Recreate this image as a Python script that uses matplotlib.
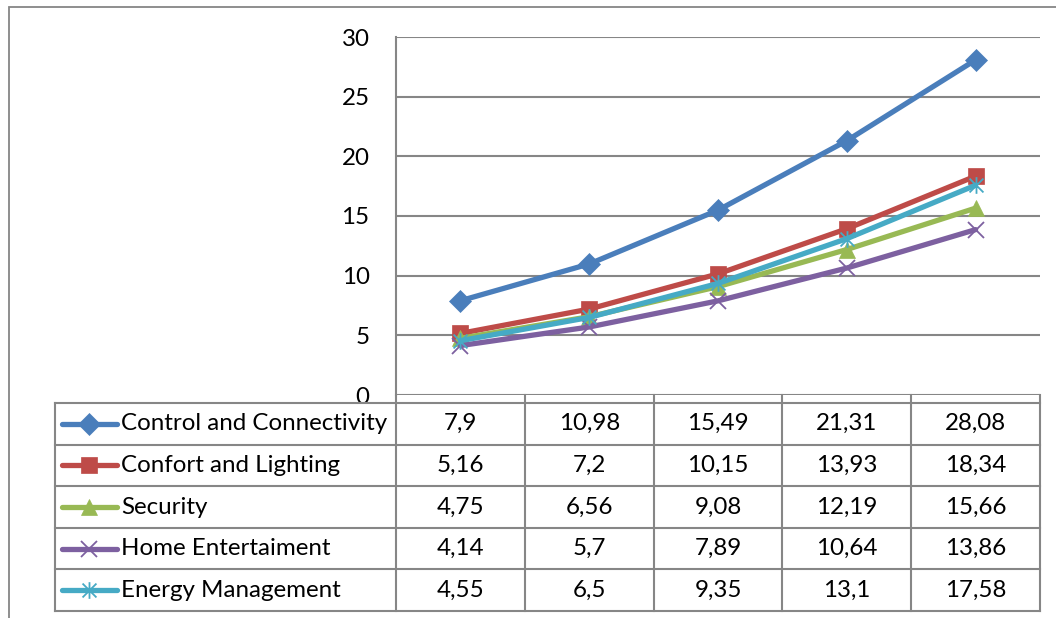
import matplotlib
matplotlib.use("Agg")
import matplotlib.pyplot as plt
from matplotlib.path import Path
from matplotlib.patches import Rectangle

series_names = ["Control and Connectivity", "Confort and Lighting", "Security",
                "Home Entertaiment", "Energy Management"]
control = [7.9, 10.98, 15.49, 21.31, 28.08]
confort = [5.16, 7.2, 10.15, 13.93, 18.34]
security = [4.75, 6.56, 9.08, 12.19, 15.66]
home_ent = [4.14, 5.7, 7.89, 10.64, 13.86]
energy = [4.55, 6.5, 9.35, 13.1, 17.58]
y_ticks = [0, 5, 10, 15, 20, 25, 30]

all_values = [control, confort, security, home_ent, energy]
colors = ["#4A7EBB", "#BE4B48", "#98B954", "#7D60A0", "#46AAC5"]
asterisk = Path([(-1, -1), (1, 1), (-1, 1), (1, -1), (0, -1.2), (0, 1.2)],
                [Path.MOVETO, Path.LINETO, Path.MOVETO, Path.LINETO, Path.MOVETO, Path.LINETO])
markers = ["D", "s", "^", "x", asterisk]
msizes = [11, 11, 12, 12, 12]

FONT = "Lato"
FS = 17.4
GRID = "#868686"

W, H = 1056, 618
fig = plt.figure(figsize=(W / 100, H / 100), dpi=100)

def fx(px):
    return px / W

def fy(py):
    return 1 - py / H

# outer chart border
fig.patches.append(Rectangle((fx(9), -0.05), 1.2, fy(7) + 0.05, transform=fig.transFigure,
                             fill=False, edgecolor=GRID, linewidth=1.3))

# main plot
px_l, px_r, py_t, py_b = 396, 1040, 37, 395
ax = fig.add_axes([fx(px_l), fy(py_b), fx(px_r - px_l), (py_b - py_t) / H])
x = list(range(len(control)))
for i, vals in enumerate(all_values):
    ax.plot(x, vals, color=colors[i], linewidth=3.8, marker=markers[i], markersize=msizes[i],
            markeredgewidth=1.3 if i >= 3 else 0.5, markeredgecolor=colors[i], zorder=3 + i,
            solid_capstyle="round")
ax.set_xlim(-0.5, 4.5)
ax.set_ylim(0, 30)
ax.set_yticks(y_ticks)
ax.set_xticks([])
ax.yaxis.grid(True, color=GRID, linewidth=1.5)
ax.set_axisbelow(True)
for s in ["top", "right", "bottom"]:
    ax.spines[s].set_visible(False)
ax.spines["left"].set_color(GRID)
ax.spines["left"].set_linewidth(1.5)
ax.tick_params(axis="y", length=0, pad=19, labelsize=FS, labelfontfamily=FONT)
ax.patch.set_alpha(0)

# data table
t_l, t_r, t_top, t_bot = 55, 1040, 395, 611
tax = fig.add_axes([fx(t_l), fy(t_bot), fx(t_r - t_l), (t_bot - t_top) / H])
unit = (px_r - px_l) / 5.0
xmin = -0.5 - (px_l - t_l) / unit
tax.set_xlim(xmin, 4.5)
row_h = (t_bot - 403) / 5.0
y0 = -(403 - t_top) / row_h
tax.set_ylim(5, y0)
tax.axis("off")

lc = GRID
lw = 1.5
for r in range(6):
    tax.plot([xmin, 4.5], [r, r], color=lc, linewidth=lw, clip_on=False)
for c in range(6):
    tax.plot([c - 0.5, c - 0.5], [y0, 5], color=lc, linewidth=lw, clip_on=False)
tax.plot([xmin, xmin], [0, 5], color=lc, linewidth=lw, clip_on=False)

def tx(px):
    return xmin + (px - t_l) / unit

for i, (name, vals) in enumerate(zip(series_names, all_values)):
    yc = i + 0.5
    tax.plot([tx(62), tx(117)], [yc, yc], color=colors[i], linewidth=3.8,
             solid_capstyle="round", clip_on=False)
    tax.plot([tx(89.5)], [yc], marker=markers[i], markersize=msizes[i], color=colors[i],
             markeredgewidth=1.3 if i >= 3 else 0.5, markeredgecolor=colors[i],
             linestyle="none", clip_on=False)
    tax.text(tx(121), yc, name, ha="left", va="center", fontsize=FS, family=FONT)
    for j, v in enumerate(vals):
        tax.text(j, yc, f"{v:g}".replace(".", ","), ha="center", va="center",
                 fontsize=FS, family=FONT)

fig.savefig("out.png", dpi=100)
